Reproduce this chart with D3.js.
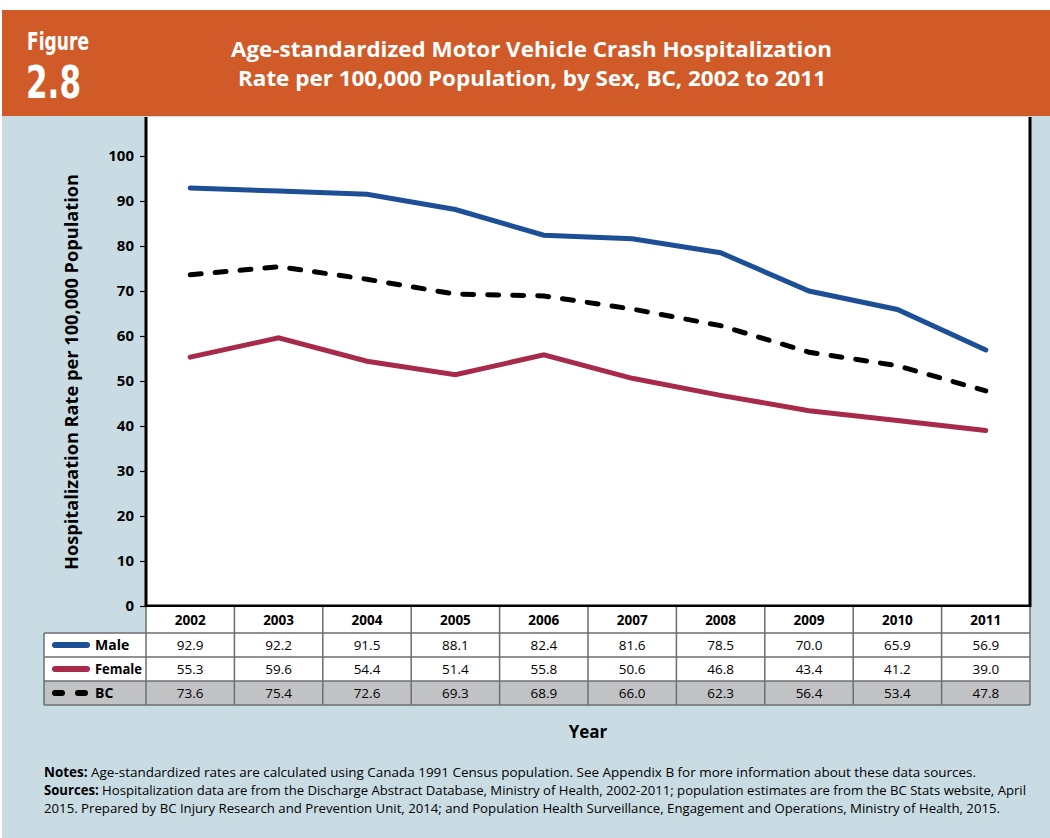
<!DOCTYPE html>
<html>
<head>
<meta charset="utf-8">
<script src="https://cdn.jsdelivr.net/npm/d3@7"></script>
<style>
body{margin:0;background:#fff;}
text{font-family:"Open Sans","Liberation Sans",sans-serif;}
.narrow{font-family:"DejaVu Sans Condensed","Liberation Sans Narrow","Open Sans",sans-serif;}
</style>
</head>
<body>
<script>
var years = ['2002','2003','2004','2005','2006','2007','2008','2009','2010','2011'];
var male = [92.9,92.2,91.5,88.1,82.4,81.6,78.5,70.0,65.9,56.9];
var female = [55.3,59.6,54.4,51.4,55.8,50.6,46.8,43.4,41.2,39.0];
var bc = [73.6,75.4,72.6,69.3,68.9,66.0,62.3,56.4,53.4,47.8];
var yTicks = [0,10,20,30,40,50,60,70,80,90,100];

var series = [
  {name:"Male", values:male, color:"#1d4f96", dash:null},
  {name:"Female", values:female, color:"#a82a4a", dash:null},
  {name:"BC", values:bc, color:"#000", dash:"11,14"}
];

var W=1050, H=838;
var svg = d3.select("body").append("svg").attr("width",W).attr("height",H);

svg.append("rect").attr("x",0).attr("y",0).attr("width",W).attr("height",H).attr("fill","#fff");
svg.append("rect").attr("x",2).attr("y",116).attr("width",W-2).attr("height",H-116).attr("fill","#c9dce4");
svg.append("rect").attr("x",2).attr("y",10).attr("width",W-2).attr("height",106).attr("fill","#d05b28");

// header
svg.append("text").attr("class","narrow").attr("x",27).attr("y",50).attr("fill","#fff")
  .attr("font-size","24").attr("font-weight","bold")
  .attr("textLength",62).attr("lengthAdjust","spacingAndGlyphs").text("Figure");
svg.append("text").attr("class","narrow").attr("x",26).attr("y",98).attr("fill","#fff")
  .attr("font-size","44").attr("font-weight","bold")
  .attr("textLength",55).attr("lengthAdjust","spacingAndGlyphs").text("2.8");
svg.append("text").attr("x",231).attr("y",57).attr("fill","#fff")
  .attr("font-size","21").attr("font-weight","bold")
  .attr("textLength",601).attr("lengthAdjust","spacingAndGlyphs")
  .text("Age-standardized Motor Vehicle Crash Hospitalization");
svg.append("text").attr("x",238).attr("y",86).attr("fill","#fff")
  .attr("font-size","21").attr("font-weight","bold")
  .attr("textLength",588).attr("lengthAdjust","spacingAndGlyphs")
  .text("Rate per 100,000 Population, by Sex, BC, 2002 to 2011");

var plotLeft=146, plotRight=1030, plotTop=117, plotBottom=606;

var x = d3.scaleBand().domain(years).range([plotLeft,plotRight]);
var y = d3.scaleLinear().domain([0,100]).range([plotBottom,156]);

svg.append("rect").attr("x",plotLeft).attr("y",plotTop).attr("width",plotRight-plotLeft).attr("height",plotBottom-plotTop).attr("fill","#fff");

var yAxis = d3.axisLeft(y).tickValues(yTicks).tickSize(6).tickPadding(6);
var gy = svg.append("g").attr("transform","translate("+plotLeft+",0)").call(yAxis);
gy.select(".domain").remove();
gy.selectAll(".tick line").attr("stroke","#000").attr("stroke-width",1.2);
gy.selectAll(".tick text").attr("font-size","15").attr("font-weight","bold").attr("fill","#000")
  .style("font-family","'Open Sans',sans-serif");

// borders
svg.append("line").attr("x1",plotLeft).attr("x2",plotLeft).attr("y1",plotTop).attr("y2",plotBottom+1).attr("stroke","#000").attr("stroke-width",3);
svg.append("line").attr("x1",plotRight).attr("x2",plotRight).attr("y1",plotTop).attr("y2",plotBottom+1).attr("stroke","#000").attr("stroke-width",3);
svg.append("line").attr("x1",plotLeft-1).attr("x2",plotRight+1).attr("y1",plotBottom).attr("y2",plotBottom).attr("stroke","#000").attr("stroke-width",3);

var line = d3.line()
  .x(function(d,i){return x(years[i])+x.bandwidth()/2;})
  .y(function(d){return y(d);});

svg.selectAll("path.series").data(series).enter().append("path")
  .attr("class","series")
  .attr("d",function(d){return line(d.values);})
  .attr("fill","none")
  .attr("stroke",function(d){return d.color;})
  .attr("stroke-width",5)
  .attr("stroke-linecap","round")
  .attr("stroke-dasharray",function(d){return d.dash;});

// data table
var rowH = 24, headTop = 607, headH = 26, labelLeft = 44;
var tbl = svg.append("g");
tbl.append("rect").attr("x",plotLeft).attr("y",headTop).attr("width",plotRight-plotLeft).attr("height",headH).attr("fill","#fff");
series.forEach(function(s,r){
  var ry = headTop+headH+r*rowH;
  tbl.append("rect").attr("x",labelLeft).attr("y",ry).attr("width",plotRight-labelLeft).attr("height",rowH)
    .attr("fill", s.name==="BC" ? "#c1c2c4" : "#fff");
});
years.forEach(function(yr){
  tbl.append("text").attr("x",x(yr)+x.bandwidth()/2).attr("y",headTop+18).attr("text-anchor","middle")
    .attr("font-size","13.5").attr("font-weight","bold").text(yr);
});
series.forEach(function(s,r){
  var ry = headTop+headH+r*rowH;
  s.values.forEach(function(v,i){
    tbl.append("text").attr("x",x(years[i])+x.bandwidth()/2).attr("y",ry+17).attr("text-anchor","middle")
      .attr("font-size","13.5").text(v.toFixed(1));
  });
  tbl.append("line").attr("x1",labelLeft+11).attr("x2",labelLeft+43).attr("y1",ry+12).attr("y2",ry+12)
    .attr("stroke",s.color).attr("stroke-width",6).attr("stroke-linecap","round")
    .attr("stroke-dasharray", s.dash ? "7,16" : null);
  var lab = tbl.append("text").attr("x",labelLeft+51).attr("y",ry+17).attr("font-size","14").attr("font-weight","bold").text(s.name);
  if (lab.node().getComputedTextLength() > 47) lab.attr("textLength",47).attr("lengthAdjust","spacingAndGlyphs");
});
// grid lines
var gridC = "#6d6e71";
for (var r=0;r<=3;r++){
  var ly = headTop+headH+r*rowH;
  tbl.append("line").attr("x1",labelLeft).attr("x2",plotRight).attr("y1",ly).attr("y2",ly).attr("stroke",gridC).attr("stroke-width",1.5);
}
tbl.append("line").attr("x1",labelLeft).attr("x2",labelLeft).attr("y1",headTop+headH).attr("y2",headTop+headH+3*rowH).attr("stroke",gridC).attr("stroke-width",1.5);
years.forEach(function(yr){
  tbl.append("line").attr("x1",x(yr)).attr("x2",x(yr)).attr("y1",headTop).attr("y2",headTop+headH+3*rowH).attr("stroke",gridC).attr("stroke-width",1.5);
});
tbl.append("line").attr("x1",plotRight).attr("x2",plotRight).attr("y1",headTop).attr("y2",headTop+headH+3*rowH).attr("stroke",gridC).attr("stroke-width",1.5);

// axis titles
svg.append("text").attr("x",588).attr("y",738).attr("text-anchor","middle").attr("font-size","17").attr("font-weight","bold").text("Year");
svg.append("text").attr("transform","translate(78,372) rotate(-90)").attr("text-anchor","middle")
  .attr("font-size","18").attr("font-weight","bold")
  .attr("textLength",396).attr("lengthAdjust","spacingAndGlyphs")
  .text("Hospitalization Rate per 100,000 Population");

// notes
var notes = svg.append("g").attr("font-size","13.5");
var n1 = notes.append("text").attr("x",44).attr("y",777).attr("textLength",932).attr("lengthAdjust","spacingAndGlyphs");
n1.append("tspan").attr("font-weight","bold").text("Notes: ");
n1.append("tspan").text("Age-standardized rates are calculated using Canada 1991 Census population. See Appendix B for more information about these data sources.");
var n2 = notes.append("text").attr("x",44).attr("y",795).attr("textLength",982).attr("lengthAdjust","spacingAndGlyphs");
n2.append("tspan").attr("font-weight","bold").text("Sources: ");
n2.append("tspan").text("Hospitalization data are from the Discharge Abstract Database, Ministry of Health, 2002-2011; population estimates are from the BC Stats website, April");
notes.append("text").attr("x",44).attr("y",813).attr("textLength",956).attr("lengthAdjust","spacingAndGlyphs")
  .text("2015.  Prepared by BC Injury Research and Prevention Unit, 2014; and Population Health Surveillance, Engagement and Operations, Ministry of Health, 2015.");
</script>
</body>
</html>
